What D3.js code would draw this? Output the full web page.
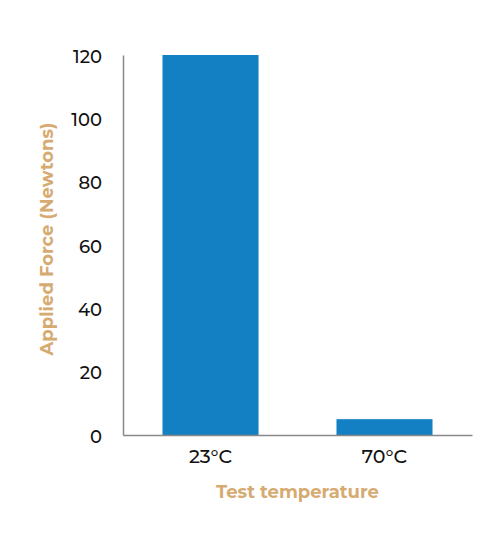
<!DOCTYPE html>
<html><head><meta charset="utf-8">
<script src="https://cdn.jsdelivr.net/npm/d3@7"></script>
<style>body{margin:0;background:#fff}svg{display:block}</style>
</head><body>
<script>
const categories = ["23°C", "70°C"];
const values = [120, 5];
const yTicks = [0, 20, 40, 60, 80, 100, 120];
const xTitle = "Test temperature";
const yTitle = "Applied Force (Newtons)";

const W = 497, H = 550;
const m = {left: 123, right: 25, top: 55, bottom: 115};
const svg = d3.select("body").append("svg").attr("width", W).attr("height", H);
const font = "Montserrat, Lato, 'Open Sans', sans-serif";

const x = d3.scaleBand().domain(categories).range([m.left, W - m.right]).paddingInner(0.448).paddingOuter(0.227);
const y = d3.scaleLinear().domain([0, 120]).range([H - m.bottom, m.top]);

svg.selectAll("rect.bar").data(values).enter().append("rect")
  .attr("class", "bar")
  .attr("x", (d, i) => x(categories[i]))
  .attr("width", x.bandwidth())
  .attr("y", d => y(d))
  .attr("height", d => y(0) - y(d))
  .attr("fill", "#1380c4");

const yAxis = svg.append("g").attr("transform", `translate(${m.left},0)`)
  .call(d3.axisLeft(y).tickValues(yTicks).tickSize(0).tickPadding(21));
yAxis.select(".domain").attr("stroke", "#888").attr("stroke-width", 1.5);
yAxis.selectAll("text").attr("font-family", font).attr("font-size", 18).attr("fill", "#111").attr("font-weight", 500).attr("dy", "0.4em");

const xAxis = svg.append("g").attr("transform", `translate(0,${y(0)})`)
  .call(d3.axisBottom(x).tickSize(0).tickPadding(15));
xAxis.select(".domain").attr("stroke", "#888").attr("stroke-width", 1.5);
xAxis.selectAll("text").attr("font-family", font).attr("font-size", 19).attr("fill", "#111").attr("font-weight", 500);

svg.append("text").attr("x", (m.left + W - m.right) / 2).attr("y", 498)
  .attr("text-anchor", "middle").attr("font-family", font).attr("font-weight", "bold")
  .attr("font-size", 18).attr("fill", "#d6ab72").text(xTitle);

svg.append("text").attr("transform", `translate(53,239) rotate(-90)`)
  .attr("text-anchor", "middle").attr("font-family", font).attr("font-weight", "bold")
  .attr("font-size", 18).attr("fill", "#d6ab72").text(yTitle);
</script>
</body></html>
